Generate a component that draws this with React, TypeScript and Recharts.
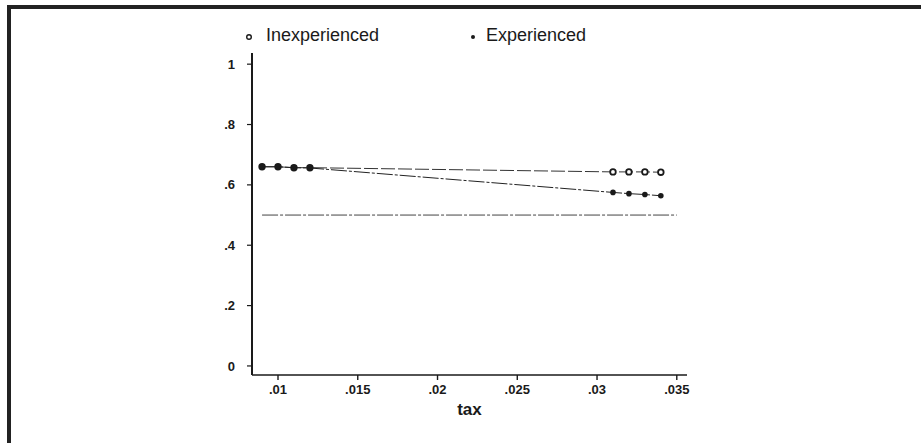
import React from 'react';
import { LineChart, Line, XAxis, YAxis } from 'recharts';

const taxValues = [0.009, 0.01, 0.011, 0.012, 0.031, 0.032, 0.033, 0.034];
const inexperienced = [0.66, 0.66, 0.657, 0.657, 0.643, 0.643, 0.643, 0.642];
const experienced = [0.66, 0.66, 0.657, 0.656, 0.575, 0.571, 0.568, 0.564];
const baselineTax = [0.009, 0.035];
const baselineValue = [0.5, 0.5];
const xTicks = [0.01, 0.015, 0.02, 0.025, 0.03, 0.035];
const yTicks = [0, 0.2, 0.4, 0.6, 0.8, 1];
const seriesNames = ['Inexperienced', 'Experienced'];

const inexData = taxValues.map((t, i) => ({ tax: t, v: inexperienced[i] }));
const expData = taxValues.map((t, i) => ({ tax: t, v: experienced[i] }));
const baseData = baselineTax.map((t, i) => ({ tax: t, v: baselineValue[i] }));

const fmt = (v: number) => {
  const s = String(Number(v.toFixed(4)));
  return s.replace(/^0\./, '.');
};

const FONT = '"Liberation Sans", Arial, Helvetica, sans-serif';
const INK = '#1a1a1a';

const HollowDot = (props: any) => {
  const { cx, cy, index } = props;
  if (cx == null || cy == null) return null;
  return (
    <circle key={`h${index}`} cx={cx} cy={cy} r={2.8} fill="#fff" stroke={INK} strokeWidth={1.8} />
  );
};

const FilledDot = (props: any) => {
  const { cx, cy, index } = props;
  if (cx == null || cy == null) return null;
  return <circle key={`f${index}`} cx={cx} cy={cy} r={2.8} fill={INK} stroke="none" />;
};

const LegendBlock = () => (
  <div style={{ position: 'absolute', left: 244, top: 24, width: 400, height: 24, fontFamily: FONT, fontSize: 18, color: INK }}>
    <svg width={10} height={10} style={{ position: 'absolute', left: 0, top: 8 }}>
      <circle cx={5} cy={5} r={2.3} fill="#fff" stroke={INK} strokeWidth={1.4} />
    </svg>
    <span style={{ position: 'absolute', left: 22, top: 1, whiteSpace: 'nowrap' }}>{seriesNames[0]}</span>
    <svg width={10} height={10} style={{ position: 'absolute', left: 224, top: 8 }}>
      <circle cx={5} cy={5} r={2} fill={INK} />
    </svg>
    <span style={{ position: 'absolute', left: 242, top: 1, whiteSpace: 'nowrap' }}>{seriesNames[1]}</span>
  </div>
);

export default function App() {
  return (
    <div style={{ position: 'absolute', left: 0, top: 0, width: 921, height: 443, background: '#fff', overflow: 'hidden' }}>
      <div
        style={{
          position: 'absolute',
          left: 7,
          top: 5,
          width: 930,
          height: 450,
          borderTop: '4px solid #222',
          borderLeft: '4px solid #222',
        }}
      />
      <LineChart
        width={921}
        height={443}
        margin={{ top: 53, right: 234, bottom: 28, left: 222 }}
        style={{ position: 'absolute', left: 0, top: 0 }}
      >
        <XAxis
          dataKey="tax"
          type="number"
          domain={[0.00837, 0.03564]}
          allowDataOverflow
          ticks={xTicks}
          tickFormatter={fmt}
          height={40}
          tickSize={5}
          tickMargin={5}
          axisLine={{ stroke: INK, strokeWidth: 1.6 }}
          tickLine={{ stroke: INK, strokeWidth: 1.4 }}
          tick={{ fill: INK, fontFamily: FONT, fontSize: 13, fontWeight: 700 }}
          label={{ value: 'tax', position: 'insideBottom', offset: 0, fill: INK, fontFamily: FONT, fontSize: 17, fontWeight: 700 }}
        />
        <YAxis
          dataKey="v"
          type="number"
          domain={[-0.03, 1.037]}
          allowDataOverflow
          ticks={yTicks}
          tickFormatter={fmt}
          width={30}
          tickSize={5}
          tickMargin={12}
          axisLine={{ stroke: INK, strokeWidth: 2 }}
          tickLine={{ stroke: INK, strokeWidth: 1.2 }}
          tick={{ fill: INK, fontFamily: FONT, fontSize: 13, fontWeight: 700 }}
        />
        <Line
          data={baseData}
          dataKey="v"
          name="baseline"
          stroke="#444"
          strokeWidth={1}
          strokeDasharray="16 2 3 2"
          dot={false}
          isAnimationActive={false}
        />
        <Line
          data={inexData}
          dataKey="v"
          name={seriesNames[0]}
          stroke="#333"
          strokeWidth={1}
          strokeDasharray="14 3"
          dot={<HollowDot />}
          isAnimationActive={false}
        />
        <Line
          data={expData}
          dataKey="v"
          name={seriesNames[1]}
          stroke="#222"
          strokeWidth={1}
          strokeDasharray="16 2 3 2"
          dot={<FilledDot />}
          isAnimationActive={false}
        />
      </LineChart>
      <LegendBlock />
    </div>
  );
}
